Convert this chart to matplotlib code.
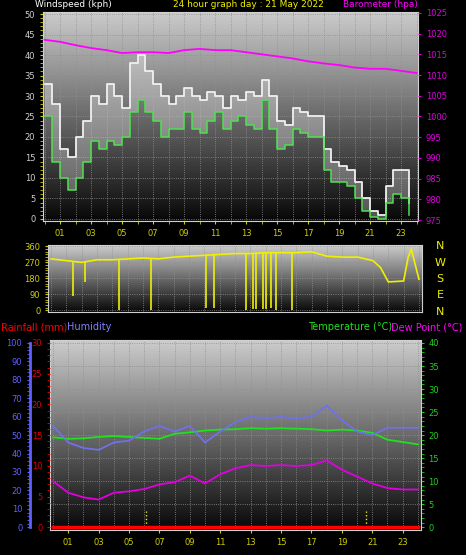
import numpy as np
import matplotlib.pyplot as plt

# wind, half-hourly (kph)
wind_hours = np.arange(0, 24, 0.5)
gust = [33, 28, 17, 15, 20, 24, 30, 28, 33, 30, 27, 38, 40, 36, 33, 30, 28, 30, 32, 30,
        29, 31, 30, 27, 30, 29, 31, 30, 34, 30, 24, 23, 27, 26, 25, 25, 17, 14, 13, 12,
        9, 5, 2, 1, 8, 12, 12, 4]
avg = [25, 14, 10, 7, 10, 14, 19, 17, 19, 18, 20, 26, 29, 26, 24, 20, 22, 22, 26, 22,
       21, 24, 26, 22, 24, 25, 23, 22, 29, 22, 17, 18, 22, 21, 20, 20, 12, 9, 9, 8,
       5, 2, 0.5, 0, 4, 6, 5, 1]

# hourly values
hours = np.arange(0, 25)
baro = [1018.5, 1018, 1017.2, 1016.5, 1016, 1015.3, 1015.5, 1015.5, 1015.3, 1016, 1016.3,
        1016, 1016, 1015.5, 1015, 1014.5, 1014, 1013.3, 1012.8, 1012.4, 1011.8, 1011.5,
        1011.5, 1011, 1010.5]
humidity = [55, 46, 43, 42, 46, 47, 52, 55, 52, 55, 46, 52, 57, 60, 59, 60, 59, 60, 66,
            58, 52, 50, 54, 54, 54]
temp = [19.5, 19.2, 19.3, 19.6, 19.8, 19.6, 19.4, 19.2, 20.3, 20.6, 21, 21.2, 21.3, 21.5,
        21.4, 21.5, 21.4, 21.3, 21, 21.2, 21, 20.5, 19, 18.5, 18]
dew = [10, 7.5, 6.5, 6, 7.5, 7.8, 8.3, 9.3, 9.8, 11.2, 9.5, 11.5, 12.8, 13.5, 13.3, 13.5,
       13.3, 13.5, 14.5, 12.5, 11, 9.5, 8.5, 8.2, 8.2]
rain = [0] * 25

# wind direction
dir_hours = [0, 1, 2, 3, 4, 5, 6, 7, 8, 9, 10, 11, 12, 13, 14, 15, 16, 17, 18, 19, 20, 21,
             21.5, 22, 23, 23.3, 23.5, 24]
dir_values = [290, 280, 270, 285, 285, 290, 295, 290, 300, 305, 310, 315, 320, 320, 325,
              325, 325, 330, 305, 300, 300, 280, 240, 160, 165, 300, 345, 175]
spike_hours = [1.4, 2.2, 4.4, 6.5, 10.1, 10.6, 12.7, 13.2, 13.4, 13.8, 14.0, 14.35, 14.7, 15.7]
spike_low = [80, 160, 0, 0, 10, 10, 0, 5, 5, 5, 5, 10, 0, 0]

dew_marks = [6.1, 20.6]

BG = 'black'
fig = plt.figure(figsize=(4.66, 5.55), dpi=100, facecolor=BG)
grad = np.linspace(0.8, 0.03, 256).reshape(-1, 1)
FS = 6
hour_ticks = list(range(1, 24, 2))


def panel(rect, xlim, ylim):
    ax = fig.add_axes(rect)
    ax.imshow(grad, cmap='gray', vmin=0, vmax=1, aspect='auto',
              extent=(xlim[0], xlim[1], ylim[0], ylim[1]), zorder=0)
    ax.set_xlim(xlim)
    ax.set_ylim(ylim)
    ax.set_facecolor(BG)
    for s in ax.spines.values():
        s.set_color('#d0d0d0')
    ax.set_xticks(range(0, 25), minor=True)
    ax.grid(True, which='both', axis='x', color='#909090', ls=':', lw=0.6)
    ax.grid(True, which='major', axis='y', color='#909090', ls=':', lw=0.6)
    return ax


# --- top panel: wind + barometer
ax1 = panel([0.0923, 0.6018, 0.805, 0.3766], (-0.1, 24.1), (-0.5, 50.5))
ax1.fill_between(wind_hours, avg, gust, step='post', color='white', alpha=0.3, lw=0, zorder=2)
ax1.step(wind_hours, gust, where='post', color='#f0f0f0', lw=1.3, zorder=3)
ax1.step(wind_hours, avg, where='post', color='#50e050', lw=1.1, zorder=4)
ax1.set_yticks(range(0, 51, 5))
ax1.set_yticks(range(0, 51, 1), minor=True)
ax1.set_xticks(hour_ticks)
ax1.set_xticklabels(['%02d' % h for h in hour_ticks])
ax1.tick_params(axis='both', which='both', colors='#d0d000', labelsize=FS, length=2)
ax1.tick_params(axis='y', labelcolor='#d0d0d0')
ax1b = ax1.twinx()
ax1b.plot(hours, baro, color='#ff00ff', lw=1.3)
ax1b.set_ylim(974.8, 1025.2)
ax1b.set_yticks(range(975, 1026, 5))
ax1b.tick_params(axis='y', colors='#e000e0', labelsize=FS, length=2)
for s in ax1b.spines.values():
    s.set_visible(False)

# --- middle panel: wind direction
ax2 = panel([0.103, 0.4378, 0.8026, 0.1207], (-0.2, 24.2), (-10, 368))
base = np.interp(spike_hours, dir_hours, dir_values)
ax2.vlines(spike_hours, spike_low, base, color='#f0f000', lw=1.2, zorder=3)
ax2.plot(dir_hours, dir_values, color='#f0f000', lw=1.2, zorder=3)
ax2.set_yticks([0, 90, 180, 270, 360])
ax2.set_yticks(range(0, 361, 15), minor=True)
ax2.set_xticks([])
ax2.set_xticks(range(0, 25), minor=True)
ax2.tick_params(axis='y', which='both', colors='#d0d000', labelsize=FS, length=2)
ax2.tick_params(axis='x', which='minor', length=0)
for i, lab in enumerate(['N', 'W', 'S', 'E', 'N']):
    fig.text(440 / 466, 1 - (246 + i * 16.5) / 555, lab, color='#f0f000',
             fontsize=8, ha='center', va='center')

# --- bottom panel: temperature / humidity / rain
ax3 = panel([0.1073, 0.045, 0.796, 0.342], (-0.2, 24.2), (-0.6, 40.6))
ax3r = ax3.twinx()
ax3h = ax3.twinx()

ax3.plot(hours, temp, color='#20e020', lw=1.3, zorder=3)
ax3.plot(hours, dew, color='#e000e0', lw=1.3, zorder=3)
ax3.vlines(dew_marks, 0, 3.5, color='#f0f000', ls=':', lw=1, zorder=3)
ax3.yaxis.tick_right()
ax3.set_yticks(range(0, 41, 5))
ax3.set_yticks(range(0, 41, 1), minor=True)
ax3.set_xticks(hour_ticks)
ax3.set_xticklabels(['%02d' % h for h in hour_ticks])
ax3.tick_params(axis='y', which='both', colors='#20d020', labelsize=FS, length=2)
ax3.tick_params(axis='x', colors='#d0d000', labelsize=FS, length=2)

ax3r.yaxis.tick_left()
ax3r.set_ylim(-0.45, 30.45)
ax3r.plot(hours, rain, color='#ff0000', lw=2.5, zorder=4)
ax3r.set_yticks(range(0, 31, 5))
ax3r.set_yticks(range(0, 31, 1), minor=True)
ax3r.tick_params(axis='y', which='both', colors='#e00000', labelsize=FS, length=2)
for s in ax3r.spines.values():
    s.set_visible(False)

ax3h.yaxis.tick_left()
ax3h.spines['left'].set_position(('axes', -0.054))
ax3h.spines['left'].set_visible(True)
ax3h.spines['left'].set_color('#6060ff')
ax3h.spines['left'].set_linewidth(2)
ax3h.spines['left'].set_bounds(0, 100)
for k in ['right', 'top', 'bottom']:
    ax3h.spines[k].set_visible(False)
ax3h.set_ylim(-1.5, 101.5)
ax3h.plot(hours, humidity, color='#7070e8', lw=1.3, zorder=3)
ax3h.set_yticks(range(0, 101, 10))
ax3h.set_yticks(range(0, 101, 2), minor=True)
ax3h.tick_params(axis='y', which='both', colors='#6060ff', labelsize=FS, length=2)

# titles
ty = 1 - 4.5 / 555
fig.text(35 / 466, ty, 'Windspeed (kph)', color='white', fontsize=6.5, va='center')
fig.text(248 / 466, ty, '24 hour graph day : 21 May 2022', color='#f0f000', fontsize=6.5,
         va='center', ha='center')
fig.text(418 / 466, ty, 'Barometer (hpa)', color='#ff00ff', fontsize=6.5, va='center', ha='right')
ly = 1 - 327 / 555
fig.text(1 / 466, ly, 'Rainfall (mm)', color='#ff0000', fontsize=7, va='center')
fig.text(67 / 466, ly, 'Humidity', color='#8080ff', fontsize=7, va='center')
fig.text(392 / 466, ly, 'Temperature (°C)', color='#20e020', fontsize=7, va='center', ha='right')
fig.text(462 / 466, ly, 'Dew Point (°C)', color='#ff00ff', fontsize=7, va='center', ha='right')

fig.savefig('out.png', dpi=100, facecolor=BG)
